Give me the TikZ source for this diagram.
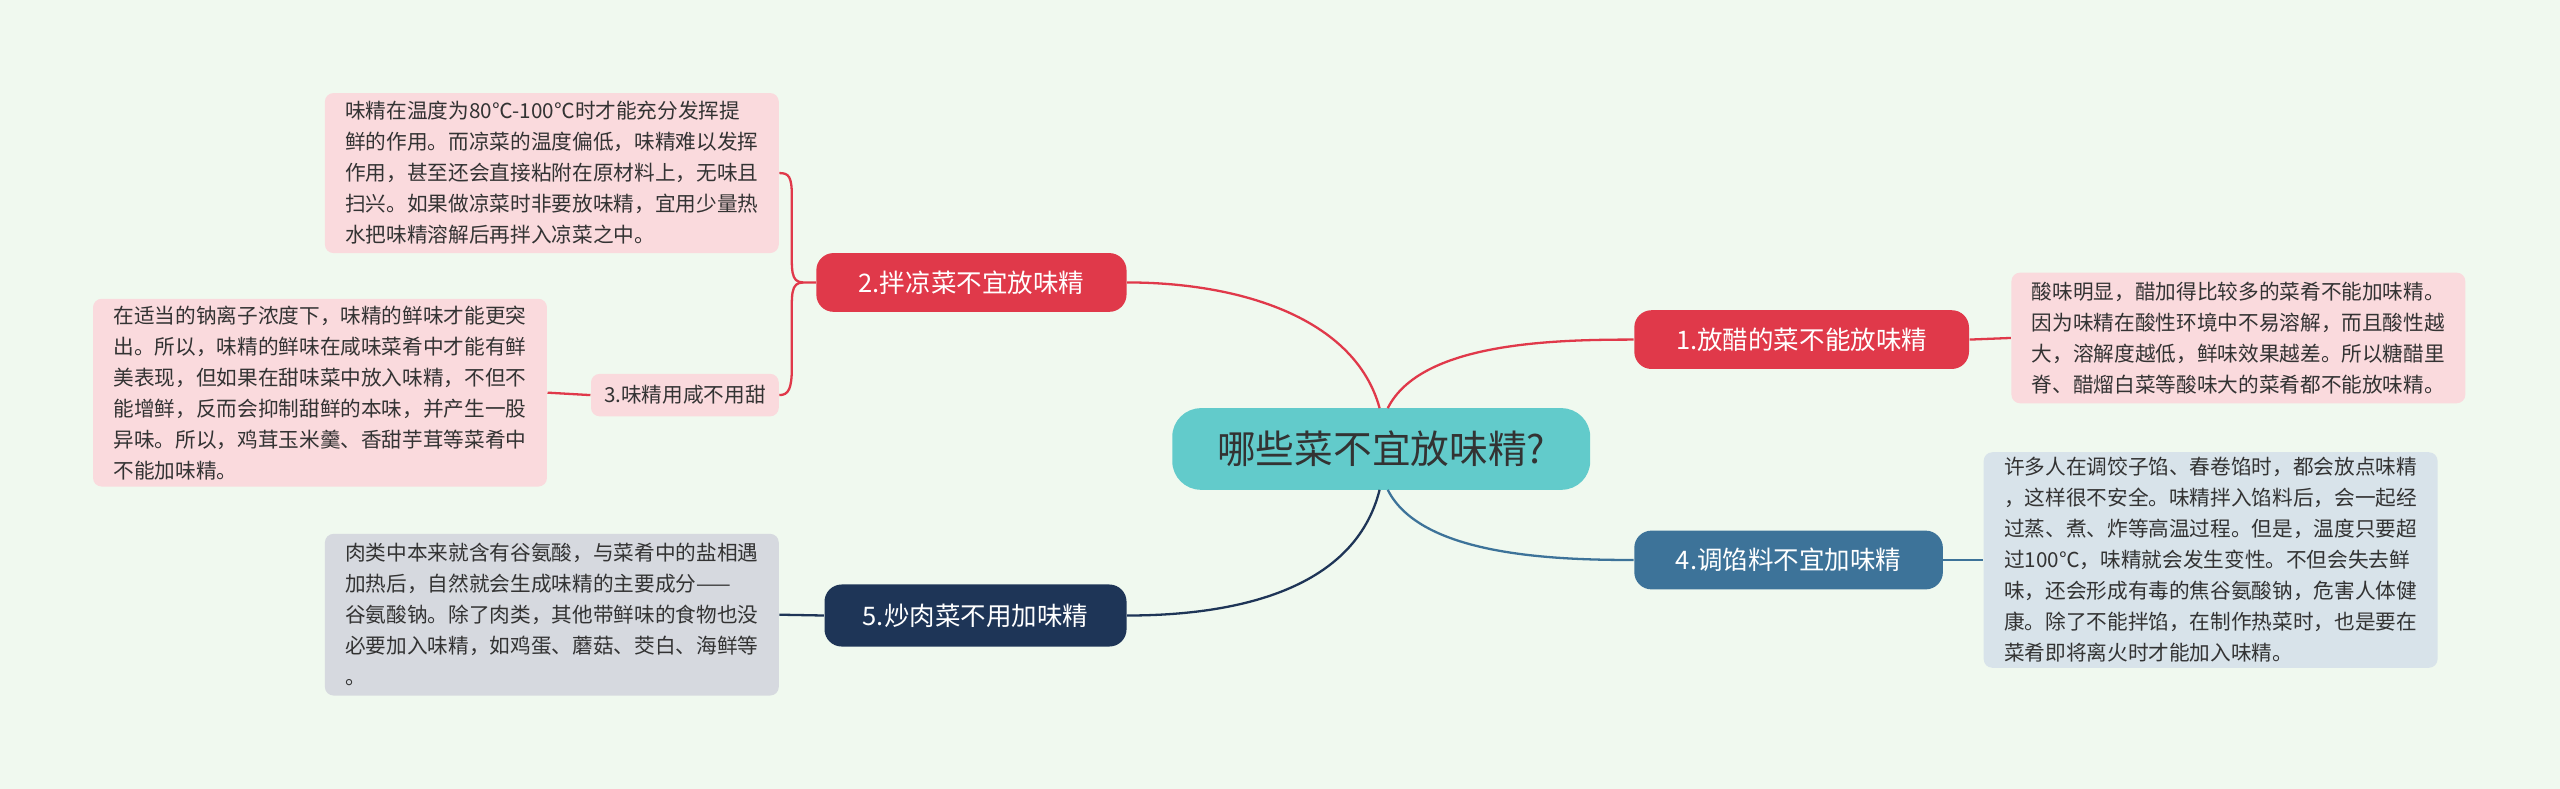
\documentclass[tikz,border=0pt]{standalone}
\usepackage{fontspec}
\setmainfont{Noto Sans CJK SC}
\definecolor{bg}{HTML}{F0F9EF}
\definecolor{cred}{HTML}{E0394A}
\definecolor{cblue}{HTML}{3D7399}
\definecolor{cnavy}{HTML}{1E3557}
\definecolor{cteal}{HTML}{62CBCB}
\definecolor{lpink}{HTML}{FADADD}
\definecolor{lblue}{HTML}{D8E3EA}
\definecolor{lgrey}{HTML}{D6D9DF}
\definecolor{tx}{HTML}{333333}
\begin{document}
\begin{tikzpicture}[x=0.02cm,y=-0.02cm,
 box/.style={rounded corners=6pt,inner sep=0pt,anchor=center},
 branch/.style={box,text=white,font=\fontsize{8.9}{10}\selectfont},
 leaf/.style={box,rounded corners=3pt,text=tx,font=\fontsize{7.2}{10.8}\selectfont,align=left},
 conn/.style={line width=0.8pt}]
\fill[bg] (0,0) rectangle (1568,483);
\useasboundingbox (0,0) rectangle (1568,483);
\node[box,fill=cteal,minimum width=256*0.02cm,minimum height=50*0.02cm,rounded corners=10pt,text=tx,font=\fontsize{13.5}{15}\selectfont] (c) at (846,275) {哪些菜不宜放味精?};
\node[branch,fill=cred,minimum width=205*0.02cm,minimum height=36*0.02cm] (b1) at (1103.5,208) {1.放醋的菜不能放味精};
\node[branch,fill=cblue,minimum width=189*0.02cm,minimum height=36*0.02cm] (b4) at (1095.5,343) {4.调馅料不宜加味精};
\node[branch,fill=cred,minimum width=190*0.02cm,minimum height=36*0.02cm] (b2) at (595,173) {2.拌凉菜不宜放味精};
\node[branch,fill=cnavy,minimum width=185*0.02cm,minimum height=38*0.02cm] (b5) at (597.5,377) {5.炒肉菜不用加味精};
\node[leaf,fill=lpink,minimum width=115*0.02cm,minimum height=26*0.02cm] (b3) at (419.5,242) {3.味精用咸不用甜};
\node[leaf,fill=lpink,minimum width=278*0.02cm,minimum height=80*0.02cm] (l1) at (1371,207) {酸味明显，醋加得比较多的菜肴不能加味精。\\因为味精在酸性环境中不易溶解，而且酸性越\\大，溶解度越低，鲜味效果越差。所以糖醋里\\脊、醋熘白菜等酸味大的菜肴都不能放味精。};
\node[leaf,fill=lblue,minimum width=278*0.02cm,minimum height=132*0.02cm] (l4) at (1354,343) {许多人在调饺子馅、春卷馅时，都会放点味精\\，这样很不安全。味精拌入馅料后，会一起经\\过蒸、煮、炸等高温过程。但是，温度只要超\\过100℃，味精就会发生变性。不但会失去鲜\\味，还会形成有毒的焦谷氨酸钠，危害人体健\\康。除了不能拌馅，在制作热菜时，也是要在\\菜肴即将离火时才能加入味精。};
\node[leaf,fill=lpink,minimum width=278*0.02cm,minimum height=98*0.02cm] (l2) at (338,106) {味精在温度为80℃-100℃时才能充分发挥提\\鲜的作用。而凉菜的温度偏低，味精难以发挥\\作用，甚至还会直接粘附在原材料上，无味且\\扫兴。如果做凉菜时非要放味精，宜用少量热\\水把味精溶解后再拌入凉菜之中。};
\node[leaf,fill=lpink,minimum width=278*0.02cm,minimum height=115*0.02cm] (l3) at (196,240.5) {在适当的钠离子浓度下，味精的鲜味才能更突\\出。所以，味精的鲜味在咸味菜肴中才能有鲜\\美表现，但如果在甜味菜中放入味精，不但不\\能增鲜，反而会抑制甜鲜的本味，并产生一股\\异味。所以，鸡茸玉米羹、香甜芋茸等菜肴中\\不能加味精。};
\node[leaf,fill=lgrey,minimum width=278*0.02cm,minimum height=99*0.02cm] (l5) at (338,376.5) {肉类中本来就含有谷氨酸，与菜肴中的盐相遇\\加热后，自然就会生成味精的主要成分——\\谷氨酸钠。除了肉类，其他带鲜味的食物也没\\必要加入味精，如鸡蛋、蘑菇、茭白、海鲜等\\。};
\coordinate (c1) at (850,250);\coordinate (c2) at (845,250);
\coordinate (c4) at (850,300);\coordinate (c5) at (845,300);
\draw[conn,cred] (c1) .. controls (870,210) and (950,208) .. (b1.west);
\draw[conn,cblue] (c4) .. controls (870,340) and (950,343) .. (b4.west);
\draw[conn,cred] (c2) .. controls (830,195) and (760,173) .. (b2.east);
\draw[conn,cnavy] (c5) .. controls (830,360) and (760,377) .. (b5.east);
\draw[conn,cred] (b1.east) -- (l1.west);
\draw[conn,cblue] (b4.east) -- (l4.west);
\draw[conn,cnavy] (b5.west) -- (l5.east);
\draw[conn,cred] (b3.west) -- (l3.east);
\draw[conn,cred] (b2.west) -- (492,173) .. controls (484,173) and (485,165) .. (485,150) -- (485,120) .. controls (485,108) and (483,106) .. (l2.east);
\draw[conn,cred] (492,173) .. controls (484,173) and (485,181) .. (485,196) -- (485,225) .. controls (485,238) and (483,242) .. (b3.east);
\end{tikzpicture}
\end{document}
